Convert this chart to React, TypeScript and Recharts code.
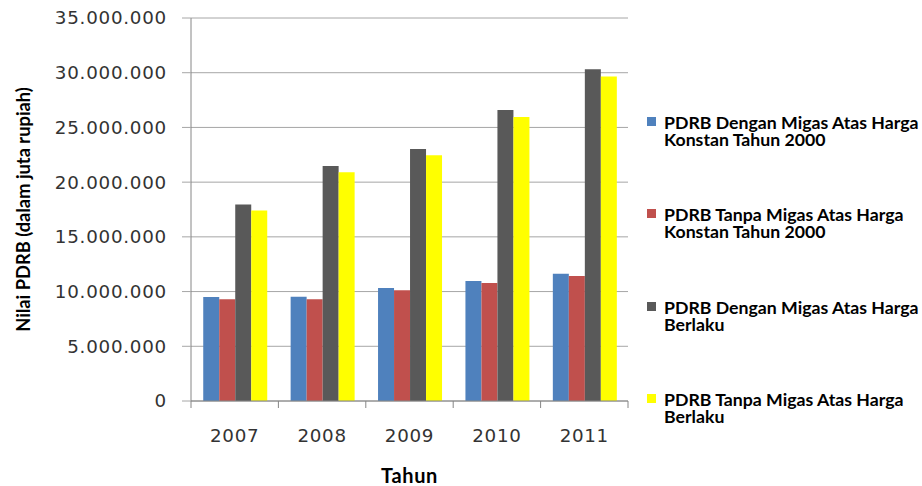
import React from "react";
import {
  BarChart,
  Bar,
  XAxis,
  YAxis,
  CartesianGrid,
  Label,
} from "recharts";

const years = ["2007", "2008", "2009", "2010", "2011"];

// nilai dalam juta rupiah
const denganMigasKonstan = [9510000, 9520000, 10330000, 10970000, 11640000];
const tanpaMigasKonstan = [9300000, 9300000, 10120000, 10790000, 11420000];
const denganMigasBerlaku = [17960000, 21480000, 23030000, 26600000, 30320000];
const tanpaMigasBerlaku = [17410000, 20900000, 22460000, 25960000, 29650000];

const yTicks = [0, 5000000, 10000000, 15000000, 20000000, 25000000, 30000000, 35000000];

const seriesNames = [
  "PDRB Dengan Migas Atas Harga Konstan Tahun 2000",
  "PDRB Tanpa Migas Atas Harga Konstan Tahun 2000",
  "PDRB Dengan Migas Atas Harga Berlaku",
  "PDRB Tanpa Migas Atas Harga Berlaku",
];
const seriesColors = ["#4F81BD", "#C0504D", "#595959", "#FFFF00"];

const data = years.map((year, i) => ({
  year,
  s0: denganMigasKonstan[i],
  s1: tanpaMigasKonstan[i],
  s2: denganMigasBerlaku[i],
  s3: tanpaMigasBerlaku[i],
}));

const W = 922;
const H = 486;
const X_AXIS_H = 85;
const margin = { top: 18, right: 294, bottom: 0, left: 0 };
const Y_AXIS_W = 191;
const band = (W - margin.right - Y_AXIS_W) / years.length;

const formatID = (v: number) =>
  String(Math.round(v)).replace(/\B(?=(\d{3})+(?!\d))/g, ".");

const YearTick = ({ x, y, payload, index }: any) => (
  <g>
    <line x1={x - band / 2} y1={y} x2={x - band / 2} y2={y + 7} stroke="#868686" />
    {index === years.length - 1 && (
      <line x1={x + band / 2} y1={y} x2={x + band / 2} y2={y + 7} stroke="#868686" />
    )}
    <text
      x={x}
      y={y + 41}
      textAnchor="middle"
      fill="#333"
      fontSize={18.3}
      fontFamily="DejaVu Sans"
      letterSpacing={0.7}
    >
      {payload.value}
    </text>
  </g>
);

export default function App() {
  return (
    <div style={{ position: "absolute", left: 0, top: 0, width: W, height: H, background: "#fff" }}>
      <BarChart
        width={W}
        height={H}
        data={data}
        margin={margin}
        barCategoryGap="14%"
        barGap={0}
      >
        <CartesianGrid vertical={false} stroke="#A6A6A6" />
        <XAxis
          dataKey="year"
          height={X_AXIS_H}
          stroke="#868686"
          tickLine={false}
          tickSize={0}
          tickMargin={0}
          tick={<YearTick />}
          interval={0}
        >
          <Label
            content={({ viewBox }: any) => (
              <text
                x={viewBox.x + viewBox.width / 2}
                y={viewBox.y + 82}
                textAnchor="middle"
                fontSize={20}
                fontWeight="bold"
                fontFamily="Lato"
                letterSpacing={0.6}
                fill="#000"
              >
                Tahun
              </text>
            )}
          />
        </XAxis>
        <YAxis
          width={Y_AXIS_W}
          domain={[0, 35000000]}
          ticks={yTicks}
          interval={0}
          stroke="#868686"
          tickLine={{ stroke: "#A6A6A6" }}
          tickSize={9}
          tickMargin={15}
          tickFormatter={formatID}
          tick={{ fill: "#333", fontSize: 18.3, fontFamily: "DejaVu Sans", letterSpacing: 0.75 }}
        >
          <Label
            content={({ viewBox }: any) => {
              const cx = 23;
              const cy = viewBox.y + viewBox.height / 2;
              return (
                <text
                  x={cx}
                  y={cy}
                  transform={`rotate(-90 ${cx} ${cy})`}
                  textAnchor="middle"
                  dominantBaseline="central"
                  fontSize={18.3}
                  fontWeight="bold"
                  fontFamily="Lato"
                  fill="#000"
                >
                  Nilai PDRB (dalam juta rupiah)
                </text>
              );
            }}
          />
        </YAxis>
        {seriesColors.map((c, i) => (
          <Bar key={i} dataKey={`s${i}`} name={seriesNames[i]} fill={c} isAnimationActive={false} />
        ))}
      </BarChart>
      {seriesNames.map((name, i) => (
        <div
          key={name}
          style={{
            position: "absolute",
            left: 647,
            top: 114 + i * 92.3,
            width: 275,
            fontFamily: "Lato",
            fontWeight: "bold",
            fontSize: 17.7,
            lineHeight: "17px",
            color: "#000",
            whiteSpace: "pre",
          }}
        >
          <span
            style={{
              position: "absolute",
              left: 0,
              top: 3,
              width: 9,
              height: 9,
              background: seriesColors[i],
            }}
          />
          <div style={{ marginLeft: 17 }}>{name.replace(" Harga ", " Harga\n")}</div>
        </div>
      ))}
    </div>
  );
}
